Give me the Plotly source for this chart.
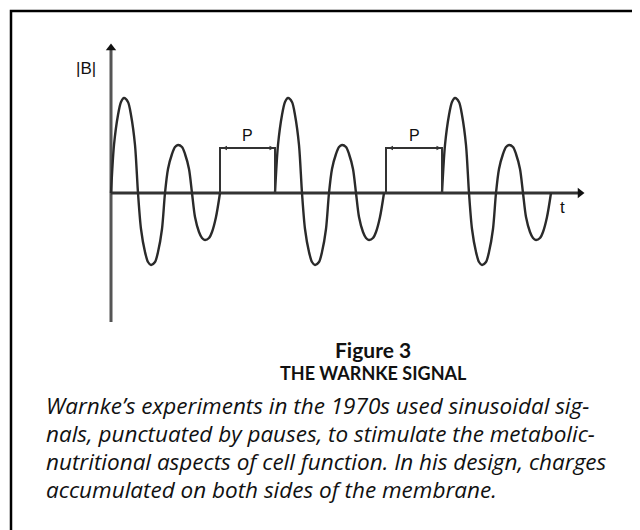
import plotly.graph_objects as go

# ---- data (units: t along time axis, B amplitude) ----
burst_starts = [0, 164, 331]
burst_t = [0, 3, 7, 10, 13, 17, 20, 24, 27,
           30, 34, 37, 40, 44, 47, 51, 54,
           57, 61, 64, 67, 71, 74, 78, 81,
           84, 88, 91, 94, 98, 101, 105, 109]
burst_B = [0, 48, 78, 91, 95, 91, 78, 48, 0,
           -36, -59, -69, -72, -69, -59, -36, 0,
           24, 39, 46, 48, 46, 39, 24, 0,
           -24, -39, -45, -47, -45, -39, -24, 0]

pause_start = [109, 275]
pause_end = [164, 331]
pause_level = 45
pause_label = "P"

y_axis_range = [-129, 150]
x_axis_range = [0, 474]

caption_title = ["Figure 3", "THE WARNKE SIGNAL"]
caption_lines = [
    "Warnke\u2019s experiments in the 1970s used sinusoidal sig-",
    "nals, punctuated by pauses, to stimulate the metabolic-",
    "nutritional aspects of cell function. In his design, charges",
    "accumulated on both sides of the membrane.",
]

# page body has an 8px margin, so the figure is placed at (8, 8)
W, H = 632, 522
X0, Y0 = 103, 185  # origin location inside the figure

fig = go.Figure()

# axes
fig.add_trace(go.Scatter(x=[0, 0], y=[y_axis_range[0], y_axis_range[1] - 6], mode="lines",
                         line=dict(color="#555555", width=3), hoverinfo="skip"))
fig.add_trace(go.Scatter(x=[x_axis_range[0], x_axis_range[1] - 6], y=[0, 0], mode="lines",
                         line=dict(color="#333333", width=3), hoverinfo="skip"))
fig.add_trace(go.Scatter(x=[0], y=[y_axis_range[1] - 5], mode="markers",
                         marker=dict(symbol="triangle-up", size=9, color="#111111"), hoverinfo="skip"))
fig.add_trace(go.Scatter(x=[x_axis_range[1] - 5], y=[0], mode="markers",
                         marker=dict(symbol="triangle-right", size=9, color="#111111"), hoverinfo="skip"))

# bursts
for s in burst_starts:
    fig.add_trace(go.Scatter(x=[s + t for t in burst_t], y=burst_B, mode="lines",
                             line=dict(color="#2a2a2a", width=2.4, shape="spline", smoothing=0.8),
                             hoverinfo="skip"))

# pauses
for a, b in zip(pause_start, pause_end):
    fig.add_trace(go.Scatter(x=[a, a, b, b], y=[0, pause_level, pause_level, 0], mode="lines",
                             line=dict(color="#333333", width=2), hoverinfo="skip"))
    fig.add_annotation(x=b - 1, y=pause_level, ax=a + 1, ay=pause_level, xref="x", yref="y",
                       axref="x", ayref="y", text="", showarrow=True, arrowside="end+start",
                       arrowhead=2, arrowsize=0.6, arrowwidth=1.5, arrowcolor="#333333")
    fig.add_annotation(x=(a + b) / 2, y=pause_level + 13, text=pause_label, showarrow=False,
                       font=dict(family="Liberation Sans", size=16, color="#111111"))

# axis labels
fig.add_annotation(x=-25, y=125, text="|B|", showarrow=False,
                   font=dict(family="Liberation Sans", size=17, color="#111111"))
fig.add_annotation(x=451, y=-14, text="t", showarrow=False,
                   font=dict(family="Liberation Sans", size=17, color="#111111"))

# caption
fig.add_annotation(x=262, y=-156, text="<b>" + caption_title[0] + "</b>", showarrow=False,
                   font=dict(family="Lato", size=21, color="#111111"))
fig.add_annotation(x=262, y=-180, text="<b>" + caption_title[1] + "</b>", showarrow=False,
                   font=dict(family="Lato", size=18, color="#111111"))
for i, line in enumerate(caption_lines):
    fig.add_annotation(x=-67, y=-212 - 28 * i, text="<i>" + line + "</i>", showarrow=False,
                       xanchor="left", font=dict(family="Open Sans", size=22.5, color="#111111"))

# border box
fig.add_shape(type="rect", xref="paper", yref="paper",
              x0=3 / W, x1=1.05, y0=-0.05, y1=1 - 3 / H,
              line=dict(color="black", width=2.5))

fig.update_layout(
    width=W, height=H, margin=dict(l=0, r=0, t=0, b=0),
    paper_bgcolor="white", plot_bgcolor="white", showlegend=False,
    xaxis=dict(range=[-X0, W - X0], visible=False, fixedrange=True),
    yaxis=dict(range=[Y0 - H, Y0], visible=False, fixedrange=True),
)

fig.write_html("out.html")
